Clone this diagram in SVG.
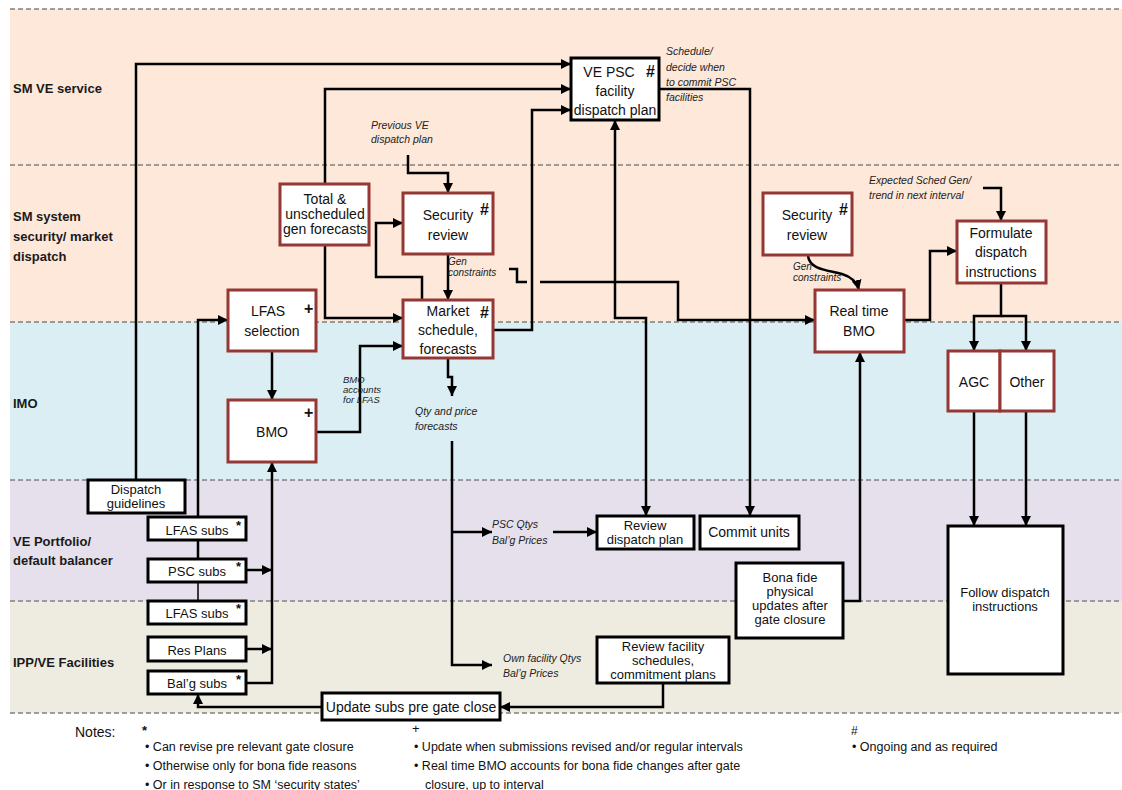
<svg xmlns="http://www.w3.org/2000/svg" width="1122" height="790" viewBox="0 0 1122 790">
<style>
.lane-label{font-family:"Liberation Sans",Arial,sans-serif;font-size:13px;font-weight:bold;fill:#1a1a1a}
.t{font-family:"Liberation Sans",Arial,sans-serif;font-size:14px;fill:#111;text-anchor:middle}
.tm{font-family:"Liberation Sans",Arial,sans-serif;font-size:13px;fill:#111;text-anchor:middle}
.ts{font-family:"Liberation Sans",Arial,sans-serif;font-size:13px;fill:#111;text-anchor:middle}
.i{font-family:"Liberation Sans",Arial,sans-serif;font-size:10.5px;font-style:italic;fill:#222}
.mark{font-family:"Liberation Sans",Arial,sans-serif;font-size:16px;font-weight:bold;fill:#111}
.star{font-family:"Liberation Sans",Arial,sans-serif;font-size:13px;font-weight:bold;fill:#111}
.note{font-family:"Liberation Sans",Arial,sans-serif;font-size:12.5px;fill:#111}
.red{fill:#fff;stroke:#953735;stroke-width:3}
.blk{fill:#fff;stroke:#000;stroke-width:3}
.dash{stroke:#808080;stroke-width:1.5;stroke-dasharray:5,3;fill:none}
.c{fill:none;stroke:#000;stroke-width:2.5}
.a{marker-end:url(#ah)}
</style>
<defs>
<marker id="ah" markerUnits="userSpaceOnUse" markerWidth="11" markerHeight="10" refX="10" refY="5" orient="auto-start-reverse">
<path d="M0,0 L10,5 L0,10 z" fill="#000"/>
</marker>
</defs>
<rect width="1122" height="790" fill="#fff"/>
<g id="lanes">
<rect x="10" y="9" width="1112" height="313" fill="#FDE8DA"/>
<rect x="10" y="322" width="1112" height="158" fill="#DBEEF3"/>
<rect x="10" y="480" width="1112" height="121" fill="#E5E0EC"/>
<rect x="10" y="601" width="1112" height="112" fill="#EEECE1"/>
<line class="dash" x1="10" y1="9" x2="1122" y2="9"/>
<line class="dash" x1="10" y1="165" x2="1122" y2="165"/>
<line class="dash" x1="10" y1="322" x2="1122" y2="322"/>
<line class="dash" x1="10" y1="480" x2="1122" y2="480"/>
<line class="dash" x1="10" y1="601" x2="1122" y2="601"/>
<line class="dash" x1="10" y1="713" x2="1122" y2="713"/>
<text class="lane-label" x="13" y="93">SM VE service</text>
<text class="lane-label" x="13" y="221">SM system</text>
<text class="lane-label" x="13" y="241">security/ market</text>
<text class="lane-label" x="13" y="261">dispatch</text>
<text class="lane-label" x="13" y="408">IMO</text>
<text class="lane-label" x="13" y="546">VE Portfolio/</text>
<text class="lane-label" x="13" y="565">default balancer</text>
<text class="lane-label" x="13" y="667">IPP/VE Facilities</text>
</g>
<g id="connectors">
<path class="c a" d="M136,480 V64 H571"/>
<path class="c a" d="M325,184 V89 H571"/>
<path class="c a" d="M325,245 V318 H403"/>
<path class="c a" d="M493,330 H532 V110 H571"/>
<path class="c a" d="M408,155 V173 H448 V193"/>
<path class="c a" d="M448,254 V300"/>
<path class="c a" d="M422,300 V277 H376 V223 H403"/>
<path class="c" d="M509,269 H517 V282 H527"/>
<path class="c a" d="M540,282 H678 V320 H815"/>
<path class="c a" d="M646,516 V318 H615 V120" marker-start="url(#ah)"/>
<path class="c a" d="M659,89 H750 V516"/>
<path class="c a" d="M808,256 C810,270 828,270 842,274 C852,277 857,282 859,290"/>
<path class="c a" d="M904,320 H930 V251 H957"/>
<path class="c a" d="M983,188 H1001 V221"/>
<path class="c a" d="M1001,283 V316 H974 V351"/>
<path class="c a" d="M1001,316 H1026 V351"/>
<path class="c a" d="M974,411 V526"/>
<path class="c a" d="M1026,411 V526"/>
<path class="c a" d="M843,601 H860 V352"/>
<path class="c a" d="M448,358 V377 H452 V396"/>
<path class="c a" d="M452,441 V665 H492"/>
<path class="c a" d="M452,532 H492"/>
<path class="c a" d="M553,532 H597"/>
<path class="c a" d="M663,683 V707 H500"/>
<path class="c a" d="M322,707 H198 V694"/>
<path class="c a" d="M198,517 V320 H228"/>
<path class="c" d="M198,540 V559"/>
<path class="c" d="M198,582 V601" style="stroke-width:1.5"/>
<path class="c a" d="M272,351 V400"/>
<path class="c a" d="M316,432 H360 V346 H403"/>
<path class="c a" d="M246,683 H272 V462"/>
<path class="c a" d="M246,570 H272"/>
<path class="c a" d="M246,649 H272"/>
</g>
<g id="labels">
<text class="i"><tspan x="666" y="55">Schedule/</tspan><tspan x="666" y="71">decide when</tspan><tspan x="666" y="86">to commit PSC</tspan><tspan x="666" y="101">facilities</tspan></text>
<text class="i"><tspan x="371" y="129">Previous VE</tspan><tspan x="371" y="143">dispatch plan</tspan></text>
<text class="i" style="font-size:10px"><tspan x="448" y="265">Gen</tspan><tspan x="448" y="276">constraints</tspan></text>
<text class="i" style="font-size:10px"><tspan x="793" y="270">Gen</tspan><tspan x="793" y="281">constraints</tspan></text>
<text class="i"><tspan x="869" y="184">Expected Sched Gen/</tspan><tspan x="869" y="199">trend in next interval</tspan></text>
<text class="i"><tspan x="415" y="415">Qty and price</tspan><tspan x="415" y="430">forecasts</tspan></text>
<text class="i"><tspan x="492" y="528">PSC Qtys</tspan><tspan x="492" y="544">Bal’g Prices</tspan></text>
<text class="i"><tspan x="503" y="662">Own facility Qtys</tspan><tspan x="503" y="677">Bal’g Prices</tspan></text>
<text class="i" style="font-size:9.5px"><tspan x="343" y="383">BMO</tspan><tspan x="343" y="393">accounts</tspan><tspan x="343" y="403">for LFAS</tspan></text>
</g>
<g id="ve-psc">
<rect class="blk" x="571" y="58" width="88" height="62"/>
<text class="t"><tspan x="609" y="77">VE PSC</tspan><tspan x="615" y="96">facility</tspan><tspan x="615" y="115">dispatch plan</tspan></text>
<text class="mark" x="646" y="77">#</text>
</g>
<g id="total-unsched">
<rect class="red" x="280" y="184" width="89" height="61"/>
<text class="t"><tspan x="325" y="204">Total &amp;</tspan><tspan x="325" y="219">unscheduled</tspan><tspan x="325" y="234">gen forecasts</tspan></text>
</g>
<g id="security-review-1">
<rect class="red" x="403" y="193" width="90" height="61"/>
<text class="t"><tspan x="448" y="220">Security</tspan><tspan x="448" y="240">review</tspan></text>
<text class="mark" x="480" y="215">#</text>
</g>
<g id="market-schedule">
<rect class="red" x="403" y="300" width="90" height="58"/>
<text class="t"><tspan x="448" y="316">Market</tspan><tspan x="448" y="335">schedule,</tspan><tspan x="448" y="354">forecasts</tspan></text>
<text class="mark" x="480" y="318">#</text>
</g>
<g id="lfas-selection">
<rect class="red" x="228" y="290" width="88" height="61"/>
<text class="t"><tspan x="268" y="316">LFAS</tspan><tspan x="272" y="336">selection</tspan></text>
<text class="mark" x="304" y="314">+</text>
</g>
<g id="bmo">
<rect class="red" x="228" y="400" width="88" height="62"/>
<text class="t" x="272" y="437">BMO</text>
<text class="mark" x="304" y="418">+</text>
</g>
<g id="dispatch-guidelines">
<rect class="blk" x="88" y="480" width="97" height="33"/>
<text class="tm"><tspan x="136" y="494">Dispatch</tspan><tspan x="136" y="508">guidelines</tspan></text>
</g>
<g id="lfas-subs-1">
<rect class="blk" x="148" y="517" width="98" height="23"/>
<text class="ts" x="197" y="535">LFAS subs</text>
<text class="star" x="236" y="530">*</text>
</g>
<g id="psc-subs">
<rect class="blk" x="148" y="559" width="98" height="23"/>
<text class="ts" x="197" y="576">PSC subs</text>
<text class="star" x="236" y="571">*</text>
</g>
<g id="lfas-subs-2">
<rect class="blk" x="148" y="601" width="98" height="23"/>
<text class="ts" x="197" y="618">LFAS subs</text>
<text class="star" x="236" y="613">*</text>
</g>
<g id="res-plans">
<rect class="blk" x="148" y="637" width="98" height="24"/>
<text class="ts" x="197" y="655">Res Plans</text>
</g>
<g id="balg-subs">
<rect class="blk" x="148" y="671" width="98" height="23"/>
<text class="ts" x="197" y="688">Bal’g subs</text>
<text class="star" x="236" y="684">*</text>
</g>
<g id="update-subs">
<rect class="blk" x="322" y="693" width="178" height="27"/>
<text class="t" x="411" y="712">Update subs pre gate close</text>
</g>
<g id="review-dispatch-plan">
<rect class="blk" x="597" y="516" width="97" height="33"/>
<text class="tm"><tspan x="645" y="530">Review</tspan><tspan x="645" y="544">dispatch plan</tspan></text>
</g>
<g id="commit-units">
<rect class="blk" x="700" y="516" width="99" height="33"/>
<text class="t" x="749" y="537">Commit units</text>
</g>
<g id="bona-fide">
<rect class="blk" x="736" y="563" width="107" height="75"/>
<text class="tm"><tspan x="790" y="582">Bona fide</tspan><tspan x="790" y="596">physical</tspan><tspan x="790" y="610">updates after</tspan><tspan x="790" y="624">gate closure</tspan></text>
</g>
<g id="review-facility">
<rect class="blk" x="597" y="637" width="132" height="46"/>
<text class="tm"><tspan x="663" y="651">Review facility</tspan><tspan x="663" y="665">schedules,</tspan><tspan x="663" y="679">commitment plans</tspan></text>
</g>
<g id="security-review-2">
<rect class="red" x="763" y="193" width="89" height="62"/>
<text class="t"><tspan x="807" y="220">Security</tspan><tspan x="807" y="240">review</tspan></text>
<text class="mark" x="839" y="215">#</text>
</g>
<g id="real-time-bmo">
<rect class="red" x="815" y="290" width="89" height="62"/>
<text class="t"><tspan x="859" y="316">Real time</tspan><tspan x="859" y="336">BMO</tspan></text>
</g>
<g id="formulate">
<rect class="red" x="957" y="221" width="89" height="62"/>
<text class="t"><tspan x="1001" y="238">Formulate</tspan><tspan x="1001" y="257">dispatch</tspan><tspan x="1001" y="277">instructions</tspan></text>
</g>
<g id="agc">
<rect class="red" x="948" y="351" width="52" height="60"/>
<text class="t" x="974" y="387">AGC</text>
</g>
<g id="other">
<rect class="red" x="1000" y="351" width="54" height="60"/>
<text class="t" x="1027" y="387">Other</text>
</g>
<g id="follow-dispatch">
<rect class="blk" x="948" y="526" width="115" height="148"/>
<text class="tm"><tspan x="1005" y="597">Follow dispatch</tspan><tspan x="1005" y="611">instructions</tspan></text>
</g>
<g id="notes">
<text class="note" style="font-size:14px" x="75" y="737">Notes:</text>
<text class="star" x="142" y="735">*</text>
<text class="note" x="145" y="751">• Can revise pre relevant gate closure</text>
<text class="note" x="145" y="770">• Otherwise only for bona fide reasons</text>
<text class="note" x="145" y="789">• Or in response to SM ‘security states’</text>
<text class="note" style="font-size:13px" x="412" y="733">+</text>
<text class="note" x="414" y="751">• Update when submissions revised and/or regular intervals</text>
<text class="note" x="414" y="770">• Real time BMO accounts for bona fide changes after gate</text>
<text class="note" x="425" y="789">closure, up to interval</text>
<text class="note" style="font-size:12px" x="851" y="735">#</text>
<text class="note" x="852" y="751">• Ongoing and as required</text>
</g>
</svg>
